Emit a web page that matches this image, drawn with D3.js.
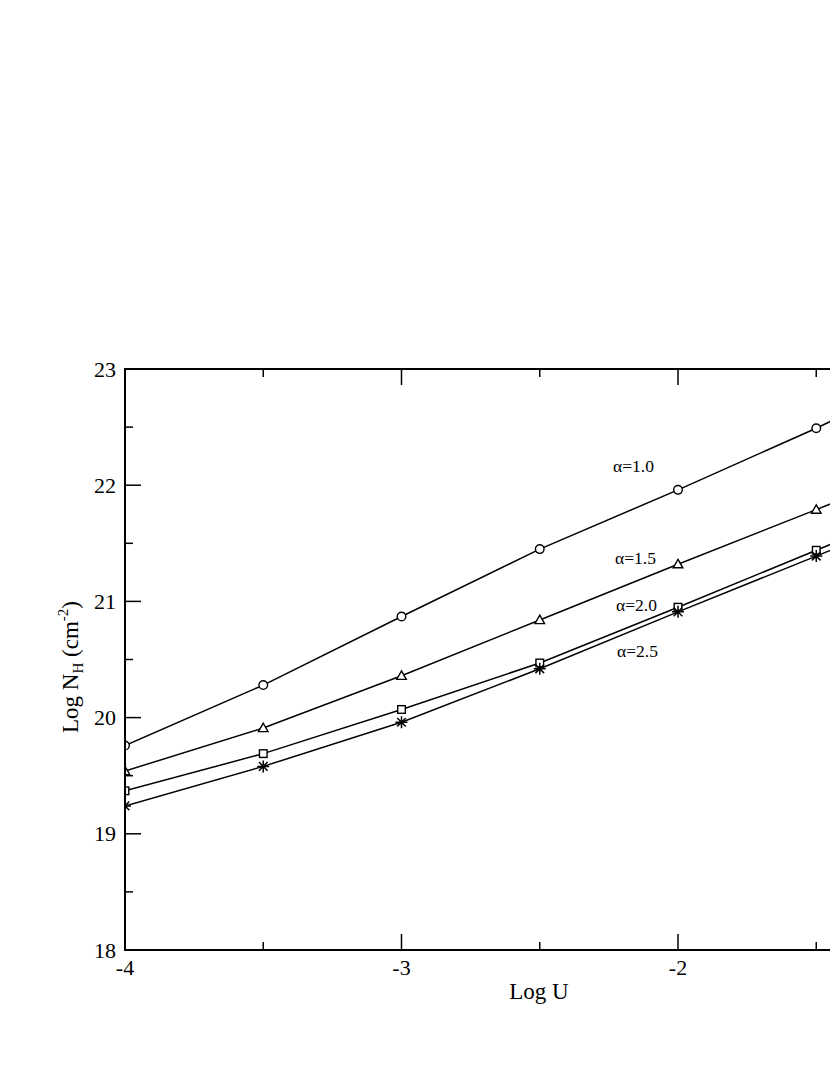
<!DOCTYPE html>
<html>
<head>
<meta charset="utf-8">
<script src="https://cdn.jsdelivr.net/npm/d3@7"></script>
<style>
  html, body { margin: 0; padding: 0; background: #fff; }
  svg { display: block; }
  text { font-family: "Liberation Serif", "DejaVu Serif", serif; fill: #000; }
</style>
</head>
<body>
<svg id="chart" width="830" height="1075"></svg>
<script>
// ---- Data ----
const logU = [-4, -3.5, -3, -2.5, -2, -1.5, -1];
const alpha10 = [19.76, 20.28, 20.87, 21.45, 21.96, 22.49, 23.06];
const alpha15 = [19.54, 19.91, 20.36, 20.84, 21.32, 21.79, 22.26];
const alpha20 = [19.37, 19.69, 20.07, 20.47, 20.95, 21.44, 21.93];
const alpha25 = [19.24, 19.58, 19.96, 20.42, 20.91, 21.39, 21.87];
const seriesNames = ["α=1.0", "α=1.5", "α=2.0", "α=2.5"];
const seriesMarkers = ["circle", "triangle", "square", "star"];
const xTicks = [-4, -3, -2, -1];
const xTickLabels = ["-4", "-3", "-2"];
const xMinorTicks = [-3.5, -2.5, -1.5];
const yTicks = [18, 19, 20, 21, 22, 23];
const yMinorTicks = [18.5, 19.5, 20.5, 21.5, 22.5];

const seriesValues = [alpha10, alpha15, alpha20, alpha25];

// ---- Layout ----
const svg = d3.select("#chart");
const pLeft = 125, pTop = 369, pBottom = 950;
const x = d3.scaleLinear().domain([-4, -1]).range([pLeft, pLeft + 3 * 276.5]);
const y = d3.scaleLinear().domain([18, 23]).range([pBottom, pTop]);
const pRight = x(-1);

const defs = svg.append("defs");
defs.append("clipPath").attr("id", "plotclip")
  .append("rect").attr("x", pLeft).attr("y", pTop).attr("width", pRight - pLeft).attr("height", pBottom - pTop);

// Lines
const line = d3.line().x((d, i) => x(logU[i])).y(d => y(d));
const g = svg.append("g").attr("clip-path", "url(#plotclip)");
seriesValues.forEach((vals) => {
  g.append("path").attr("d", line(vals))
    .attr("fill", "none").attr("stroke", "#000").attr("stroke-width", 1.5);
});

// Markers
seriesValues.forEach((vals, si) => {
  const type = seriesMarkers[si];
  vals.forEach((v, i) => {
    const cx = x(logU[i]), cy = y(v);
    const m = g.append("g").attr("transform", `translate(${cx},${cy})`)
      .attr("fill", "#fff").attr("stroke", "#000").attr("stroke-width", 1.4);
    if (type === "circle") {
      m.append("circle").attr("r", 4.3);
    } else if (type === "triangle") {
      m.append("path").attr("d", "M0,-4.8L4.8,3.6L-4.8,3.6Z");
    } else if (type === "square") {
      m.append("rect").attr("x", -3.8).attr("y", -3.8).attr("width", 7.6).attr("height", 7.6);
    } else {
      const r = 6, d = r * 0.72;
      m.append("path").attr("fill", "none").attr("stroke-width", 1.5)
        .attr("d", `M${-r},0L${r},0M0,${-r}L0,${r}M${-d},${-d}L${d},${d}M${-d},${d}L${d},${-d}`);
    }
  });
});

// Frame
svg.append("rect").attr("x", pLeft).attr("y", pTop).attr("width", pRight - pLeft).attr("height", pBottom - pTop)
  .attr("fill", "none").attr("stroke", "#000").attr("stroke-width", 2);

// Ticks
const tg = svg.append("g").attr("stroke", "#000").attr("stroke-width", 1.5);
const major = 16, minor = 8;
xTicks.forEach(t => {
  tg.append("line").attr("x1", x(t)).attr("x2", x(t)).attr("y1", pBottom).attr("y2", pBottom - major);
  tg.append("line").attr("x1", x(t)).attr("x2", x(t)).attr("y1", pTop).attr("y2", pTop + major);
});
xMinorTicks.forEach(t => {
  tg.append("line").attr("x1", x(t)).attr("x2", x(t)).attr("y1", pBottom).attr("y2", pBottom - minor);
  tg.append("line").attr("x1", x(t)).attr("x2", x(t)).attr("y1", pTop).attr("y2", pTop + minor);
});
yTicks.forEach(t => {
  tg.append("line").attr("x1", pLeft).attr("x2", pLeft + major).attr("y1", y(t)).attr("y2", y(t));
});
yMinorTicks.forEach(t => {
  tg.append("line").attr("x1", pLeft).attr("x2", pLeft + minor).attr("y1", y(t)).attr("y2", y(t));
});

// Tick labels
xTickLabels.forEach(t => {
  svg.append("text").attr("x", x(+t)).attr("y", pBottom + 25).attr("text-anchor", "middle")
    .attr("font-size", 22).text(t);
});
yTicks.forEach(t => {
  svg.append("text").attr("x", pLeft - 9).attr("y", y(t) + 7.5).attr("text-anchor", "end")
    .attr("font-size", 22).text(String(t));
});

// Axis titles
svg.append("text").attr("x", 539).attr("y", 999).attr("text-anchor", "middle")
  .attr("font-size", 23).text("Log U");

const yl = svg.append("text").attr("transform", "translate(78,667) rotate(-90)")
  .attr("text-anchor", "middle").attr("font-size", 23);
yl.append("tspan").text("Log N");
yl.append("tspan").attr("font-size", 15).attr("dy", 5).text("H");
yl.append("tspan").attr("dy", -5).text(" (cm");
yl.append("tspan").attr("font-size", 15).attr("dy", -10).text("-2");
yl.append("tspan").attr("dy", 10).text(")");

// Series labels
const labelX = [613, 615, 616, 617];
const labelY = [471.5, 564, 610.5, 656.5];
seriesNames.forEach((n, i) => {
  svg.append("text").attr("x", labelX[i]).attr("y", labelY[i]).attr("font-size", 17.5).text(n);
});
</script>
</body>
</html>
